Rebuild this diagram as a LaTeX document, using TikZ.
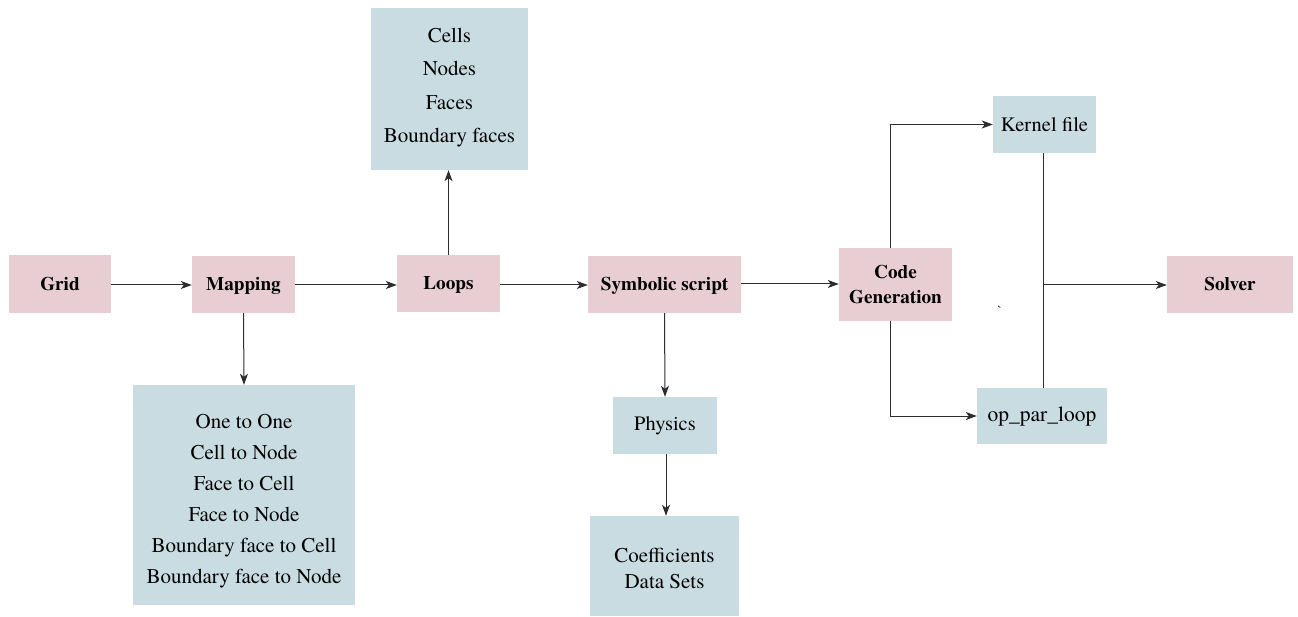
\documentclass[tikz,border=0pt]{standalone}
\usepackage{fontspec}
\setmainfont{TeX Gyre Termes}
\usetikzlibrary{arrows.meta}
\definecolor{pinkbox}{RGB}{232,206,210}
\definecolor{bluebox}{RGB}{201,220,226}
\definecolor{linec}{RGB}{45,45,45}
\begin{document}
\begin{tikzpicture}[x=1pt,y=-1pt,
  stage/.style={fill=pinkbox,inner sep=0pt,align=center,font=\fontsize{19.2}{24}\selectfont\bfseries},
  oneline/.style={text height=15pt,text depth=2pt},
  info/.style={fill=bluebox,inner sep=0pt,align=center,font=\fontsize{20.5}{31}\selectfont},
  infotext/.style={inner sep=0pt,align=center,font=\fontsize{21}{31}\selectfont},
  conn/.style={draw=linec,line width=1pt,-{Stealth[length=11pt,width=8pt,inset=3pt]}},
  plain/.style={draw=linec,line width=1pt}]
\useasboundingbox (0,0) rectangle (1298,617);
% stage boxes
\node[stage,oneline,minimum width=102,minimum height=58] (grid) at (60,284) {Grid};
\node[stage,oneline,minimum width=103,minimum height=57] (map) at (243.5,284.5) {Mapping};
\node[stage,oneline,minimum width=103,minimum height=57] (loops) at (448.5,283.5) {Loops};
\node[stage,oneline,minimum width=153,minimum height=57] (sym) at (664.5,284.5) {Symbolic script};
\node[stage,minimum width=113,minimum height=73,font=\fontsize{19.2}{25}\selectfont\bfseries] (code) at (895.5,284.5) {Code\\Generation};
\node[stage,oneline,minimum width=126,minimum height=57] (solver) at (1230,284.5) {Solver};
% info boxes
\node[info,minimum width=157,minimum height=162] (ent) at (449.5,89) {};
\node[infotext,font=\fontsize{21}{33.4}\selectfont] (enttxt) at (449.5,87.5) {Cells\\Nodes\\Faces\\Boundary faces};
\node[info,minimum width=222,minimum height=220] (maps) at (244,495) {};
\node[infotext] (mapstxt) at (244,501.5) {One to One\\Cell to Node\\Face to Cell\\Face to Node\\Boundary face to Cell\\Boundary face to Node};
\node[info,minimum width=104,minimum height=57] (phys) at (665,425.5) {Physics};
\node[info,minimum width=149,minimum height=100] (coef) at (664.5,566) {};
\node[infotext,font=\fontsize{21}{26}\selectfont] (coeftxt) at (664.5,568) {Coefficients\\Data Sets};
\node[info,minimum width=103,minimum height=57] (kern) at (1044.5,124.5) {Kernel file};
\node[info,minimum width=130,minimum height=56,font=\fontsize{21.5}{26}\selectfont] (oppar) at (1042,416) {op\_par\_loop};
\node[font=\fontsize{14}{14}\selectfont,inner sep=0pt] (tick) at (1000,311) {\textasciigrave};
% coordinates
\coordinate (cgtop) at (890,248);
\coordinate (cgbot) at (890,321);
\coordinate (kbot) at (1043,153);
\coordinate (otop) at (1043,388);
\coordinate (join) at (1043,285);
% connectors
\draw[conn] (grid.east |- 0,285) -- (map.west |- 0,285);
\draw[conn] (map.east |- 0,285) -- (loops.west |- 0,285);
\draw[conn] (loops.east |- 0,285) -- (sym.west |- 0,285);
\draw[conn] (sym.east |- 0,284) -- (code.west |- 0,284);
\draw[conn] (map.south) -- (maps.north);
\draw[conn] (loops.north) -- (ent.south -| loops.north);
\draw[conn] (sym.south) -- (phys.north);
\draw[conn] (phys.south -| 666,0) -- (coef.north -| 666,0);
\draw[conn] (cgtop) |- (kern.west);
\draw[conn] (cgbot) |- (oppar.west);
\draw[plain] (kbot) -- (otop);
\draw[conn] (join) -- (solver.west |- join);
\end{tikzpicture}
\end{document}
